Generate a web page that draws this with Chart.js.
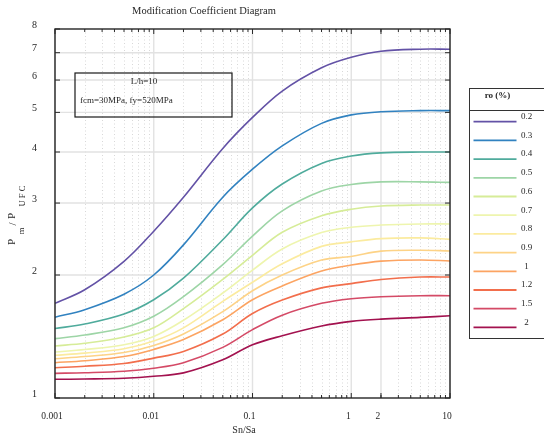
<!DOCTYPE html>
<html><head><meta charset="utf-8">
<script src="https://cdn.jsdelivr.net/npm/chart.js@4.4.1/dist/chart.umd.min.js"></script>
<style>html,body{margin:0;padding:0;background:#fff;overflow:hidden}#wrap{position:relative;width:544px;height:443px}</style>
</head><body><div id="wrap"><canvas id="c" width="544" height="443"></canvas></div>
<script>
// ---- data ----
const sn = [0.001,0.002,0.005,0.01,0.02,0.05,0.1,0.2,0.5,1,2,5,10];
const roLabels = ['0.2','0.3','0.4','0.5','0.6','0.7','0.8','0.9','1','1.2','1.5','2'];
const ro02 = [1.705,1.84,2.16,2.56,3.10,4.08,4.86,5.64,6.43,6.82,7.06,7.14,7.14];
const ro03 = [1.576,1.645,1.795,2.00,2.37,3.10,3.63,4.14,4.70,4.93,5.02,5.05,5.05];
const ro04 = [1.479,1.517,1.605,1.74,1.965,2.44,2.92,3.34,3.75,3.91,3.98,4.00,4.00];
const ro05 = [1.397,1.426,1.486,1.585,1.77,2.12,2.49,2.87,3.21,3.33,3.38,3.38,3.37];
const ro06 = [1.341,1.361,1.41,1.485,1.655,1.952,2.235,2.544,2.792,2.897,2.95,2.967,2.967];
const ro07 = [1.296,1.314,1.35,1.415,1.55,1.807,2.055,2.316,2.54,2.618,2.65,2.667,2.667];
const ro08 = [1.272,1.288,1.32,1.378,1.485,1.724,1.92,2.13,2.35,2.41,2.455,2.465,2.445];
const ro09 = [1.248,1.263,1.292,1.345,1.435,1.627,1.83,2.0,2.176,2.22,2.288,2.30,2.29];
const ro10 = [1.220,1.234,1.263,1.315,1.39,1.554,1.74,1.88,2.045,2.115,2.163,2.177,2.164];
const ro12 = [1.186,1.196,1.215,1.252,1.30,1.434,1.61,1.737,1.86,1.905,1.95,1.977,1.977];
const ro15 = [1.149,1.153,1.163,1.183,1.22,1.33,1.47,1.595,1.705,1.75,1.77,1.78,1.78];
const ro20 = [1.111,1.113,1.118,1.13,1.152,1.24,1.35,1.42,1.50,1.54,1.56,1.575,1.59];
const seriesValues = [ro02,ro03,ro04,ro05,ro06,ro07,ro08,ro09,ro10,ro12,ro15,ro20];
const seriesColors = ['#6352a6','#3182c0','#4fab9c','#9dd5a6','#d6ec98','#eef5ae','#fbeb9f','#fdd387','#fca462','#f26e4c','#d44a66','#a3124f'];
const xTickValues = [0.001,0.01,0.1,1,2,10];
const xTickLabels = ['0.001','0.01','0.1','1','2','10'];
const xDecades = [0.001,0.01,0.1,1];
const yTickValues = [1,2,3,4,5,6,7,8];
const yTickLabels = ['1','2','3','4','5','6','7','8'];
const titleText = 'Modification Coefficient Diagram';
const xTitle = 'Sn/Sa';
const legendTitle = 'ro (%)';
const noteLines = ['L/h=10','fcm=30MPa, fy=520MPa'];

const SERIF = '"Liberation Serif","DejaVu Serif",serif';
const TXT = '#262626';

const datasets = seriesValues.map((vals,i)=>({
  label: roLabels[i],
  data: sn.map((x,j)=>({x:x,y:vals[j]})),
  borderColor: seriesColors[i],
  backgroundColor: seriesColors[i],
  borderWidth: 1.6,
  pointRadius: 0,
  fill: false,
  tension: 0.35
}));

const decor = {
  id: 'decor',
  beforeDatasetsDraw(chart){
    const {ctx, chartArea:a, scales:{x:xs,y:ys}} = chart;
    ctx.save();
    ctx.strokeStyle = '#d8d8d8'; ctx.lineWidth = 1; ctx.setLineDash([1,2.5]);
    xDecades.forEach(d=>{ for(let k=2;k<=9;k++){ const v=d*k; if(xTickValues.some(t=>Math.abs(t-v)<1e-9)) continue;
      const px = Math.round(xs.getPixelForValue(v))+0.5; ctx.beginPath(); ctx.moveTo(px,a.top); ctx.lineTo(px,a.bottom); ctx.stroke(); }});
    ctx.setLineDash([]);
    ctx.strokeStyle = '#e2e2e2'; ctx.lineWidth = 1.4;
    xTickValues.forEach(v=>{ const px = xs.getPixelForValue(v); ctx.beginPath(); ctx.moveTo(px,a.top); ctx.lineTo(px,a.bottom); ctx.stroke(); });
    yTickValues.forEach(v=>{ if(v===1||v===8) return; const py = ys.getPixelForValue(v); ctx.beginPath(); ctx.moveTo(a.left,py); ctx.lineTo(a.right,py); ctx.stroke(); });
    ctx.restore();
  },
  afterDraw(chart){
    const {ctx, chartArea:a, scales:{x:xs,y:ys}} = chart;
    ctx.save();
    ctx.strokeStyle = '#2b2b2b'; ctx.lineWidth = 1;
    xDecades.forEach(d=>{ for(let k=2;k<=9;k++){ const px = xs.getPixelForValue(d*k);
      ctx.beginPath(); ctx.moveTo(px,a.bottom); ctx.lineTo(px,a.bottom-3); ctx.moveTo(px,a.top); ctx.lineTo(px,a.top+3); ctx.stroke(); }});
    xTickValues.forEach(v=>{ const px = xs.getPixelForValue(v);
      ctx.beginPath(); ctx.moveTo(px,a.bottom); ctx.lineTo(px,a.bottom-5); ctx.moveTo(px,a.top); ctx.lineTo(px,a.top+5); ctx.stroke(); });
    yTickValues.forEach(v=>{ const py = ys.getPixelForValue(v);
      ctx.beginPath(); ctx.moveTo(a.left,py); ctx.lineTo(a.left+5,py); ctx.moveTo(a.right,py); ctx.lineTo(a.right-5,py); ctx.stroke(); });
    ctx.lineWidth = 1.4; ctx.strokeStyle = '#262626';
    ctx.strokeRect(a.left, a.top, a.right-a.left, a.bottom-a.top);
    ctx.fillStyle = TXT; ctx.textAlign='center'; ctx.textBaseline='middle';
    ctx.font = '10.5px '+SERIF; ctx.fillText(titleText, 204, 11);
    ctx.font = '10px '+SERIF; ctx.fillText(xTitle, 244, 430);
    const pieces = [['P',12,242,11],['m',22,231,8.5],['/',13,224,11],['P',12,216,11],['U F C',23,196,8.5]];
    pieces.forEach(p=>{ ctx.save(); ctx.translate(p[1],p[2]); ctx.rotate(-Math.PI/2); ctx.font=p[3]+'px '+SERIF; ctx.fillText(p[0],0,0); ctx.restore(); });
    ctx.lineWidth = 1.2; ctx.strokeStyle='#1a1a1a';
    ctx.strokeRect(75,73,157,44);
    ctx.font = '9px '+SERIF; ctx.textAlign='center'; ctx.fillText(noteLines[0],144,82);
    ctx.textAlign='left'; ctx.fillText(noteLines[1],80,101);
    const lx=469, ly=88, lw=100, lh=250;
    ctx.fillStyle='#fff'; ctx.fillRect(lx,ly,lw,lh);
    ctx.lineWidth=1; ctx.strokeStyle='#333'; ctx.strokeRect(lx+0.5,ly+0.5,lw,lh);
    ctx.beginPath(); ctx.moveTo(lx,110.5); ctx.lineTo(lx+lw,110.5); ctx.stroke();
    ctx.fillStyle=TXT; ctx.font='bold 9px '+SERIF; ctx.textAlign='center'; ctx.fillText(legendTitle,497.5,95.5);
    ctx.font='9px '+SERIF;
    chart.data.datasets.forEach((ds,i)=>{
      const yy = 121.7 + i*18.7;
      ctx.strokeStyle = ds.borderColor; ctx.lineWidth=1.8;
      ctx.beginPath(); ctx.moveTo(473.5,yy); ctx.lineTo(516.5,yy); ctx.stroke();
      ctx.fillStyle=TXT; ctx.textAlign='center'; ctx.fillText(ds.label,526.5,yy-5);
    });
    ctx.restore();
  }
};

new Chart(document.getElementById('c'),{
  type:'line',
  data:{datasets},
  options:{
    responsive:false, animation:false, devicePixelRatio:1,
    layout:{padding:{left:0,right:94,top:29,bottom:0}},
    plugins:{legend:{display:false},tooltip:{enabled:false},title:{display:false}},
    scales:{
      x:{type:'logarithmic',min:0.001,max:10,
        grid:{display:false},border:{display:false},
        afterBuildTicks:s=>{s.ticks = xTickValues.map(v=>({value:v}));},
        afterFit:s=>{s.height=45;},
        ticks:{autoSkip:false,maxRotation:0,padding:5,labelOffset:-3,color:TXT,font:{family:SERIF,size:9.5},
          callback:(v,i)=>xTickLabels[i]}
      },
      y:{type:'logarithmic',min:1,max:8,
        grid:{display:false},border:{display:false},
        afterBuildTicks:s=>{s.ticks = yTickValues.map(v=>({value:v}));},
        afterFit:s=>{s.width=55;},
        ticks:{autoSkip:false,padding:10,labelOffset:-4,color:TXT,font:{family:SERIF,size:10},
          callback:(v,i)=>yTickLabels[i]}
      }
    }
  },
  plugins:[decor]
});
</script></body></html>
